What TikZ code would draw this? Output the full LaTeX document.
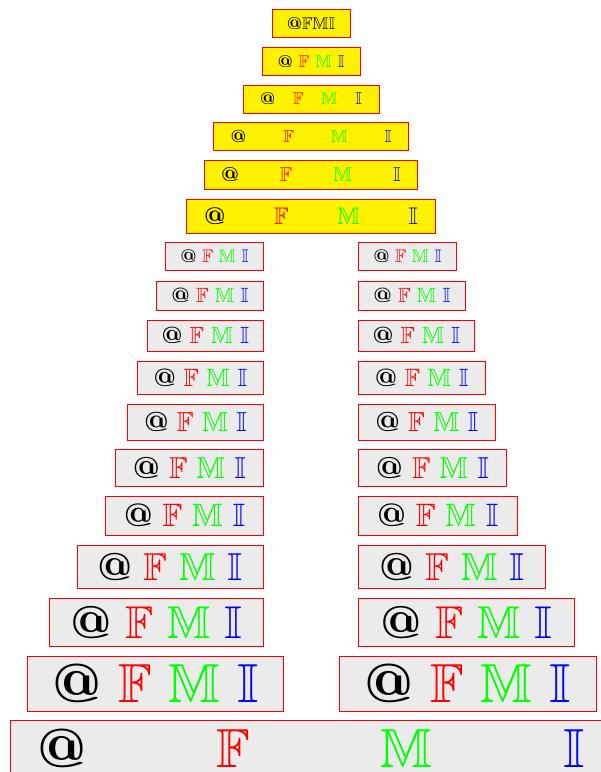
\documentclass[tikz,border=0pt]{standalone}
\usepackage{fontspec}
\usepackage{amssymb}
\usepackage{xcolor}
\definecolor{fmR}{RGB}{255,0,0}
\definecolor{fmG}{RGB}{0,255,0}
\definecolor{fmB}{RGB}{0,0,255}
\definecolor{fmY}{RGB}{255,242,0}
\definecolor{fmGray}{RGB}{235,235,235}
\makeatletter
\newcommand\fmat{{\font\fmatfont=cmbx10 at \f@size pt\fmatfont @}}
\makeatother
\newcommand\bb[1]{{\usefont{U}{msb}{m}{n}#1}}
\newcommand\fmitext{\fmat\ \textcolor{fmR}{\bb{F}} \textcolor{fmG}{\bb{M}} \textcolor{fmB}{\bb{I}}}
\newcommand\fmispread[1]{\makebox[#1pt][s]{\fmat\hfill\textcolor{fmR}{\bb{F}}\hfill\textcolor{fmG}{\bb{M}}\hfill\textcolor{fmB}{\bb{I}}}}
% name, style, xl, xr, ytop, ybot, size, content
\newcommand\fmibox[8]{%
  \pgfmathsetmacro\fmiW{#4-#3-1}%
  \pgfmathsetmacro\fmiH{#6-#5-1}%
  \pgfmathsetmacro\fmiX{(#3+#4)/2}%
  \pgfmathsetmacro\fmiY{-(#5+#6)/2}%
  \pgfmathsetmacro\fmiC{0.689*#7}%
  \node[#2, minimum width=\fmiW pt, minimum height=\fmiH pt, text height=\fmiC pt, text depth=0pt, font=\fontsize{#7}{#7}\selectfont] (#1) at (\fmiX pt,\fmiY pt) {#8};%
}
\tikzset{
  graybox/.style={draw=fmR, fill=fmGray, line width=1pt, inner sep=0pt, outer sep=0pt},
  yelbox/.style={draw=fmR, fill=fmY, line width=1pt, inner sep=0pt, outer sep=0pt}
}
\begin{document}
\begin{tikzpicture}
\useasboundingbox (0,0) rectangle (601pt,-772pt);
% yellow pyramid
\fmibox{y1}{yelbox}{271.5}{350.5}{9}{37.5}{17}{\fmat\bb{F}\bb{M}\bb{I}}
\fmibox{y2}{yelbox}{261.5}{360.5}{47}{75.5}{17}{\fmispread{67}}
\fmibox{y3}{yelbox}{242.5}{379.5}{84.5}{113.5}{17}{\fmispread{102}}
\fmibox{y4}{yelbox}{213}{409}{122}{151}{17.5}{\fmispread{161}}
\fmibox{y5}{yelbox}{204}{418}{160}{190}{20}{\fmispread{180}}
\fmibox{y6}{yelbox}{186}{436}{199}{233.5}{24}{\fmispread{214}}
% left column
\fmibox{l1}{graybox}{165}{264}{242}{271}{18.2}{\fmitext}
\fmibox{l2}{graybox}{156}{264}{280.5}{311}{20.6}{\fmitext}
\fmibox{l3}{graybox}{147}{264}{319.5}{352}{23.4}{\fmitext}
\fmibox{l4}{graybox}{137}{264}{360.5}{395}{25}{\fmitext}
\fmibox{l5}{graybox}{127}{264}{404}{440.5}{27.5}{\fmitext}
\fmibox{l6}{graybox}{115}{264}{449}{487}{30.2}{\fmitext}
\fmibox{l7}{graybox}{105}{264}{495.5}{535.5}{32.4}{\fmitext}
\fmibox{l8}{graybox}{76.5}{264}{544.5}{589}{38.9}{\fmitext}
\fmibox{l9}{graybox}{48.5}{264}{598}{647}{45.9}{\fmitext}
\fmibox{l10}{graybox}{27}{284}{656}{711.5}{55}{\fmitext}
% right column
\fmibox{r1}{graybox}{358}{457}{242}{271}{18.2}{\fmitext}
\fmibox{r2}{graybox}{358}{466}{280.5}{311}{20.6}{\fmitext}
\fmibox{r3}{graybox}{358}{475}{319.5}{352}{23.4}{\fmitext}
\fmibox{r4}{graybox}{358}{485.5}{360.5}{395}{25}{\fmitext}
\fmibox{r5}{graybox}{358}{495.5}{404}{440.5}{27.5}{\fmitext}
\fmibox{r6}{graybox}{358}{507}{449}{487}{30.2}{\fmitext}
\fmibox{r7}{graybox}{358}{517.5}{495.5}{535.5}{32.4}{\fmitext}
\fmibox{r8}{graybox}{358}{546}{544.5}{589}{38.9}{\fmitext}
\fmibox{r9}{graybox}{358}{574.5}{598}{647}{45.9}{\fmitext}
\fmibox{r10}{graybox}{339}{596.5}{656}{711.5}{55}{\fmitext}
% bottom
\fmibox{bot}{graybox}{10}{612}{720}{778}{55}{\fmispread{547}}
\end{tikzpicture}
\end{document}
